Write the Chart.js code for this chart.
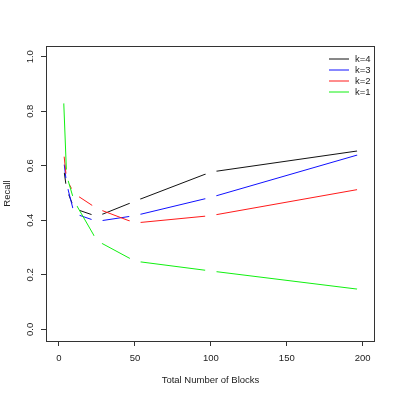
<!DOCTYPE html>
<html>
<head>
<meta charset="utf-8">
<script src="https://cdn.jsdelivr.net/npm/chart.js@4/dist/chart.umd.min.js"></script>
<style>
  html, body { margin: 0; padding: 0; background: #fff; }
</style>
</head>
<body>
<canvas id="chart" width="399" height="399"></canvas>
<script>
// data
const blocks = [3, 5, 10, 25, 50, 100, 200];
const recallK4 = [0.595, 0.514, 0.443, 0.414, 0.470, 0.577, 0.657];
const recallK3 = [0.625, 0.534, 0.425, 0.396, 0.417, 0.484, 0.645];
const recallK2 = [0.654, 0.550, 0.498, 0.443, 0.390, 0.417, 0.516];
const recallK1 = [0.850, 0.565, 0.470, 0.325, 0.250, 0.214, 0.145];

const seriesLabels = ['k=4', 'k=3', 'k=2', 'k=1'];
const seriesColors = ['#111111', '#1010ff', '#ff1a1a', '#10f010'];
const xTicks = [0, 50, 100, 150, 200];
const yTicks = [0, 0.2, 0.4, 0.6, 0.8, 1.0];

const FONT = '"Liberation Sans", Arial, Helvetica, sans-serif';
const GAP = 5.8; // R type="b" style gap around each point

Chart.defaults.font.family = FONT;
Chart.defaults.font.size = 9.5;
Chart.defaults.color = '#222';

const allSeries = [recallK4, recallK3, recallK2, recallK1];
const datasets = allSeries.map((vals, i) => ({
  label: seriesLabels[i],
  data: blocks.map((b, j) => ({ x: b, y: vals[j] })),
  borderColor: seriesColors[i],
  borderWidth: 1,
  pointRadius: 0,
  tension: 0,
  fill: false,
  order: allSeries.length - i
}));

// cut a hole round every point so the line stops short of it
const pointGaps = {
  id: 'pointGaps',
  beforeDatasetDraw(chart, args) {
    const ctx = chart.ctx;
    ctx.save();
    ctx.beginPath();
    ctx.rect(0, 0, chart.width, chart.height);
    args.meta.data.forEach(pt => {
      ctx.moveTo(pt.x + GAP, pt.y);
      ctx.arc(pt.x, pt.y, GAP, 0, Math.PI * 2);
    });
    ctx.clip('evenodd');
  },
  afterDatasetDraw(chart) {
    chart.ctx.restore();
  }
};

// plot frame + legend in the top right corner
const frameAndLegend = {
  id: 'frameAndLegend',
  afterDraw(chart) {
    const ctx = chart.ctx;
    const { left, right, top, bottom } = chart.chartArea;
    ctx.save();
    ctx.strokeStyle = '#333';
    ctx.lineWidth = 1;
    ctx.strokeRect(Math.round(left) + 0.5, Math.round(top) + 0.5,
      Math.round(right - left) - 1, Math.round(bottom - top));

    ctx.font = '9.5px ' + FONT;
    ctx.textBaseline = 'middle';
    ctx.textAlign = 'left';
    chart.data.datasets.forEach((ds, i) => {
      const y = Math.round(top + 12.5 + i * 11.1);
      ctx.strokeStyle = ds.borderColor;
      ctx.beginPath();
      ctx.moveTo(right - 46, y);
      ctx.lineTo(right - 26, y);
      ctx.stroke();
      ctx.fillStyle = '#222';
      ctx.fillText(ds.label, right - 20, y);
    });
    ctx.restore();
  }
};

new Chart(document.getElementById('chart'), {
  type: 'line',
  data: { datasets },
  options: {
    responsive: false,
    animation: false,
    devicePixelRatio: 1,
    layout: { padding: { top: 46, right: 24, left: 0, bottom: 0 } },
    plugins: {
      legend: { display: false },
      tooltip: { enabled: false }
    },
    scales: {
      x: {
        type: 'linear',
        min: -8.56,
        max: 208.1,
        afterBuildTicks: s => { s.ticks = xTicks.map(v => ({ value: v })); },
        afterFit: s => { s.height = 58; },
        border: { display: false },
        grid: { drawOnChartArea: false, drawTicks: true, tickLength: 5, color: '#333' },
        ticks: { autoSkip: false, maxRotation: 0, padding: 7, color: '#222', callback: v => String(v) },
        title: { display: true, text: 'Total Number of Blocks', color: '#222', padding: { top: 0, bottom: 12.6 } }
      },
      y: {
        type: 'linear',
        min: -0.0429,
        max: 1.0393,
        afterBuildTicks: s => { s.ticks = yTicks.map(v => ({ value: v })); },
        afterFit: s => { s.width = 46; },
        border: { display: false },
        grid: { drawOnChartArea: false, drawTicks: true, tickLength: 5, color: '#333' },
        ticks: { autoSkip: false, minRotation: 90, maxRotation: 90, crossAlign: 'center', padding: 4, color: '#222', callback: v => v.toFixed(1) },
        title: { display: true, text: 'Recall', color: '#222', padding: { top: 2, bottom: 0 } }
      }
    }
  },
  plugins: [pointGaps, frameAndLegend]
});
</script>
</body>
</html>
